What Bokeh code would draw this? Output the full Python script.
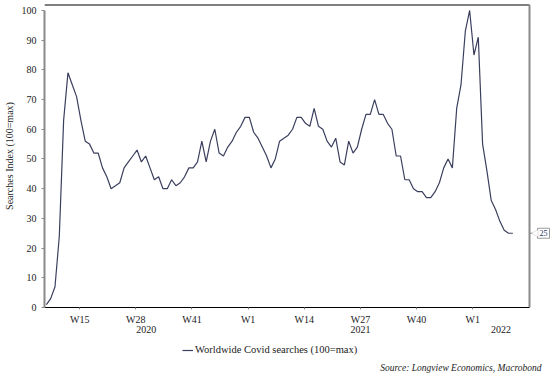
import pandas as pd
from bokeh.plotting import figure
from bokeh.layouts import column
from bokeh.models import (Range1d, LinearAxis, FixedTicker, Legend, LegendItem,
                          Label, PolyAnnotation)
from bokeh.embed import file_html
from bokeh.resources import INLINE

# ---- data (weekly Google-Trends style index) ----
start_date = "2020-02-12"
searches = [1, 3, 7, 24, 63, 79, 75, 71, 63, 56,
            55, 52, 52, 47, 44, 40, 41, 42, 47, 49,
            51, 53, 49, 51, 47, 43, 44, 40, 40, 43,
            41, 42, 44, 47, 47, 49, 56, 49, 56, 60,
            52, 51, 54, 56, 59, 61, 64, 64, 59, 57,
            54, 51, 47, 50, 56, 57, 58, 60, 64, 64,
            62, 61, 67, 61, 60, 56, 54, 57, 49, 48,
            56, 52, 54, 60, 65, 65, 70, 65, 65, 62,
            60, 51, 51, 43, 43, 40, 39, 39, 37, 37,
            39, 42, 47, 50, 47, 67, 75, 93, 100, 85,
            91, 55, 46, 36, 33, 29, 26, 25, 25]
week_tick_dates = ["2020-04-06", "2020-07-06", "2020-10-05", "2021-01-04",
                   "2021-04-05", "2021-07-05", "2021-10-04", "2022-01-03"]
week_tick_labels = ["W15", "W28", "W41", "W1", "W14", "W27", "W40", "W1"]
year_starts = ["2021-01-04", "2022-01-03"]
year_labels = ["2020", "2021", "2022"]
range_dates = ["2020-02-09", "2022-04-05"]
y_ticks = list(range(0, 101, 10))
series_name = "Worldwide Covid searches (100=max)"
source_text = "Source: Longview Economics, Macrobond"

ref = pd.Timestamp("2021-01-04")
def wk(d):
    return (pd.Timestamp(d) - ref).days / 7.0

dates = pd.date_range(start_date, periods=len(searches), freq="7D")
x = [(d - ref).days / 7.0 for d in dates]
x0, x1 = wk(range_dates[0]), wk(range_dates[1])

FONT = "Liberation Serif"
LINE = "#3b3f5e"
GREY = "#8a8a8a"
TXT = "#222222"

PLOT_W = 485          # width of the visible plotting box
FRAME_W = 510         # frame also holds the last-value callout on the right
pxw = PLOT_W / (x1 - x0)
x_end = x0 + FRAME_W / pxw
Y_TOP = 102

p = figure(frame_width=FRAME_W, frame_height=303, output_backend="svg",
           toolbar_location=None, min_border_left=34, min_border_right=2,
           min_border_top=4, min_border_bottom=0,
           x_range=Range1d(x0, x_end), y_range=Range1d(0, Y_TOP),
           background_fill_color="white", border_fill_color="white")
p.outline_line_color = None
p.grid.visible = False

# top border and right grey spine of the plotting box
p.segment(x0=[x0], y0=[Y_TOP], x1=[x1], y1=[Y_TOP], line_color="black", line_width=2)
p.segment(x0=[x1], y0=[0], x1=[x1], y1=[Y_TOP], line_color=GREY, line_width=2)
# tick at latest value on the right spine
p.segment(x0=[x1], y0=[searches[-1]], x1=[x1 + 3 / pxw], y1=[searches[-1]],
          line_color=GREY, line_width=1)

r = p.line(x, searches, line_color=LINE, line_width=1.2)

# bottom axis: week labels
xa = p.xaxis[0]
wticks = [wk(d) for d in week_tick_dates]
xa.ticker = FixedTicker(ticks=wticks)
xa.major_label_overrides = {t: l for t, l in zip(wticks, week_tick_labels)}
xa.bounds = (x0, x1)
xa.major_tick_out = 2
xa.major_tick_in = 0
xa.minor_tick_out = 0
xa.minor_tick_in = 0
xa.major_tick_line_color = GREY
xa.axis_line_color = "black"
xa.major_label_standoff = 4
xa.major_label_text_font = FONT
xa.major_label_text_font_size = "10px"
xa.major_label_text_color = TXT

# second bottom axis: year labels centred on each year span
bounds = [x0] + [wk(d) for d in year_starts] + [x1]
yr_ticks = [(bounds[i] + bounds[i + 1]) / 2 for i in range(len(year_labels))]
ya2 = LinearAxis(ticker=FixedTicker(ticks=yr_ticks),
                 major_label_overrides={t: l for t, l in zip(yr_ticks, year_labels)},
                 major_tick_out=0, major_tick_in=0, minor_tick_out=0, minor_tick_in=0,
                 axis_line_color=None, major_label_standoff=-2,
                 major_label_text_font=FONT, major_label_text_font_size="10px",
                 major_label_text_color=TXT)
p.add_layout(ya2, "below")

# left axis
la = p.yaxis[0]
la.ticker = FixedTicker(ticks=y_ticks)
la.bounds = (0, 100)
la.axis_line_color = GREY
la.axis_line_width = 2
la.major_tick_out = 3
la.major_tick_in = 0
la.minor_tick_out = 0
la.minor_tick_in = 0
la.major_tick_line_color = GREY
la.major_label_standoff = 5
la.major_label_text_font = FONT
la.major_label_text_font_size = "10px"
la.major_label_text_color = TXT
la.axis_label = "Searches Index (100=max)"
la.axis_label_text_font = FONT
la.axis_label_text_font_style = "normal"
la.axis_label_text_font_size = "10px"
la.axis_label_text_color = TXT
la.axis_label_standoff = 4

# latest value callout
last = searches[-1]
p.add_layout(Label(x=x1, y=last, x_offset=8, text=str(last), text_font=FONT,
                   text_font_size="8px", text_color="#223366",
                   text_align="left", text_baseline="middle",
                   padding=2, border_line_color="#999999", background_fill_color="white"))
p.add_layout(PolyAnnotation(xs=[x1 + 2 / pxw, x1 + 8.5 / pxw, x1 + 8.5 / pxw],
                            ys=[last, last + 1.2, last - 1.2],
                            fill_color="white", fill_alpha=1.0,
                            line_color="#999999", line_width=1))

# ---- footer strip: legend and source ----
FOOT_W, FOOT_H = 553, 42
f = figure(width=FOOT_W, height=FOOT_H, output_backend="svg", toolbar_location=None,
           x_axis_location=None, y_axis_location=None,
           min_border=0, x_range=Range1d(0, FOOT_W), y_range=Range1d(0, FOOT_H),
           background_fill_color="white", border_fill_color="white")
f.outline_line_color = None
f.grid.visible = False
r2 = f.line([-10, -5], [-10, -10], line_color=LINE, line_width=1.2)
legend = Legend(items=[LegendItem(label=series_name, renderers=[r2])],
                location=(138, 22), orientation="horizontal",
                glyph_width=11, glyph_height=10, label_height=10, label_standoff=2,
                padding=0, margin=0, spacing=0,
                border_line_color=None, background_fill_alpha=0,
                label_text_font=FONT, label_text_font_size="10.5px",
                label_text_color=TXT)
f.add_layout(legend, "center")
f.add_layout(Label(x=497, y=10, x_units="screen", y_units="screen",
                   text=source_text, text_font=FONT, text_font_style="italic",
                   text_font_size="9.5px", text_color=TXT,
                   text_align="right", text_baseline="middle"))

open("out.html", "w").write(file_html(column(p, f), INLINE))
